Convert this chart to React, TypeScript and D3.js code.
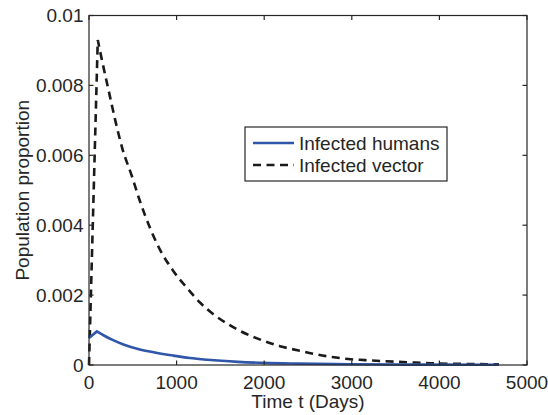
import * as d3 from "d3";
import React, { useEffect, useRef } from "react";

// values
const vectorT = [0, 100, 150, 220, 300, 380, 490, 580, 700, 810, 960, 1120, 1270, 1420, 1580, 1720, 1870, 2030, 2180, 2380, 2580, 2770, 2960, 3150, 3350, 3530, 3720, 3900, 4270, 4680];
const vectorY = [0, 0.0093, 0.0087, 0.0079, 0.0070, 0.0062, 0.0054, 0.0047, 0.0039, 0.0033, 0.0027, 0.0022, 0.00178, 0.00145, 0.00118, 0.00098, 0.00081, 0.00066, 0.00054, 0.00042, 0.00031, 0.00023, 0.00017, 0.00014, 0.00011, 0.00009, 0.00007, 0.00005, 0.00003, 0.00002];
const humansT = [0, 90, 180, 275, 400, 560, 750, 960, 1150, 1350, 1700, 2000, 2400, 3000, 3700, 4680];
const humansY = [0.00077, 0.00096, 0.00083, 0.00071, 0.00058, 0.00046, 0.00036, 0.00027, 0.0002, 0.00015, 0.00009, 0.00006, 0.00004, 0.00002, 0.00001, 0.000005];
const xTicks = [0, 1000, 2000, 3000, 4000, 5000];
const yTicks = [0, 0.002, 0.004, 0.006, 0.008, 0.01];
const seriesNames = ["Infected humans", "Infected vector"];

export default function App() {
   const ref = useRef<SVGSVGElement>(null);

   useEffect(() => {
      const width = 548;
      const height = 415;
      const margin = { top: 15.5, right: 21, bottom: 50, left: 89 };
      const ink = "#262626";
      const font = "Liberation Sans, Arial, Helvetica, sans-serif";

      const svg = d3.select(ref.current);
      svg.selectAll("*").remove();
      svg.attr("width", width).attr("height", height);

      const x = d3.scaleLinear().domain([0, 5000]).range([margin.left, width - margin.right]);
      const y = d3.scaleLinear().domain([0, 0.01]).range([height - margin.bottom, margin.top]);

      const rise = d3
         .line<[number, number]>()
         .x((d) => x(d[0]))
         .y((d) => y(d[1]));
      const decay = d3
         .line<[number, number]>()
         .x((d) => x(d[0]))
         .y((d) => y(d[1]))
         .curve(d3.curveMonotoneX);

      // sharp peak: straight rise to the maximum, smooth decay after it
      const pathOf = (ts: number[], vs: number[]) => {
         const pts = ts.map((t, i) => [t, vs[i]] as [number, number]);
         const d1 = rise(pts.slice(0, 2)) as string;
         const d2 = (decay(pts.slice(1)) as string).replace(/^M[^C]*/, "");
         return d1 + d2;
      };

      const plot = svg.append("g");

      plot
         .append("path")
         .attr("d", pathOf(vectorT, vectorY))
         .attr("fill", "none")
         .attr("stroke", "#1a1a1a")
         .attr("stroke-width", 2.6)
         .attr("stroke-dasharray", "8,5.5");

      plot
         .append("path")
         .attr("d", pathOf(humansT, humansY))
         .attr("fill", "none")
         .attr("stroke", "#2f56a8")
         .attr("stroke-width", 2.6)
         .attr("stroke-linejoin", "miter");

      // box with inward ticks on all four sides
      const x0 = x.range()[0];
      const x1 = x.range()[1];
      const y0 = y.range()[0];
      const y1 = y.range()[1];
      const tickLen = 4.5;
      const frame = svg.append("g").attr("stroke", ink).attr("stroke-width", 1.2).attr("fill", "none");
      frame.append("rect").attr("x", x0).attr("y", y1).attr("width", x1 - x0).attr("height", y0 - y1);
      xTicks.forEach((t) => {
         frame.append("line").attr("x1", x(t)).attr("x2", x(t)).attr("y1", y0).attr("y2", y0 - tickLen);
         frame.append("line").attr("x1", x(t)).attr("x2", x(t)).attr("y1", y1).attr("y2", y1 + tickLen);
      });
      yTicks.forEach((v) => {
         frame.append("line").attr("x1", x0).attr("x2", x0 + tickLen).attr("y1", y(v)).attr("y2", y(v));
         frame.append("line").attr("x1", x1).attr("x2", x1 - tickLen).attr("y1", y(v)).attr("y2", y(v));
      });

      const labels = svg.append("g").attr("font-family", font).attr("font-size", 19).attr("fill", ink);
      xTicks.forEach((t) => {
         labels.append("text").attr("x", x(t)).attr("y", y0 + 23.5).attr("text-anchor", "middle").text(String(t));
      });
      yTicks.forEach((v) => {
         labels
            .append("text")
            .attr("x", x0 - 5.5)
            .attr("y", y(v))
            .attr("dy", "0.35em")
            .attr("text-anchor", "end")
            .text(v === 0 ? "0" : String(+v.toFixed(3)));
      });

      labels
         .append("text")
         .attr("x", (x0 + x1) / 2)
         .attr("y", 408)
         .attr("text-anchor", "middle")
         .text("Time t (Days)");
      labels
         .append("text")
         .attr("transform", `translate(29,${(y0 + y1) / 2}) rotate(-90)`)
         .attr("text-anchor", "middle")
         .text("Population proportion");

      // legend
      const legend = svg.append("g").attr("transform", "translate(245,127)");
      legend
         .append("rect")
         .attr("width", 202)
         .attr("height", 54)
         .attr("fill", "#fff")
         .attr("stroke", ink)
         .attr("stroke-width", 1.2);
      const styles = [
         { color: "#2f56a8", dash: null },
         { color: "#1a1a1a", dash: "8,5.5" },
      ];
      seriesNames.forEach((name, i) => {
         const cy = 16 + i * 22;
         legend
            .append("line")
            .attr("x1", 8)
            .attr("x2", 49)
            .attr("y1", cy)
            .attr("y2", cy)
            .attr("stroke", styles[i].color)
            .attr("stroke-width", 2.6)
            .attr("stroke-dasharray", styles[i].dash);
         legend
            .append("text")
            .attr("x", 54)
            .attr("y", cy)
            .attr("dy", "0.35em")
            .attr("font-family", font)
            .attr("font-size", 19)
            .attr("fill", ink)
            .text(name);
      });
   }, []);

   return <svg ref={ref} style={{ position: "absolute", left: 0, top: 0, background: "#fff" }}></svg>;
}
